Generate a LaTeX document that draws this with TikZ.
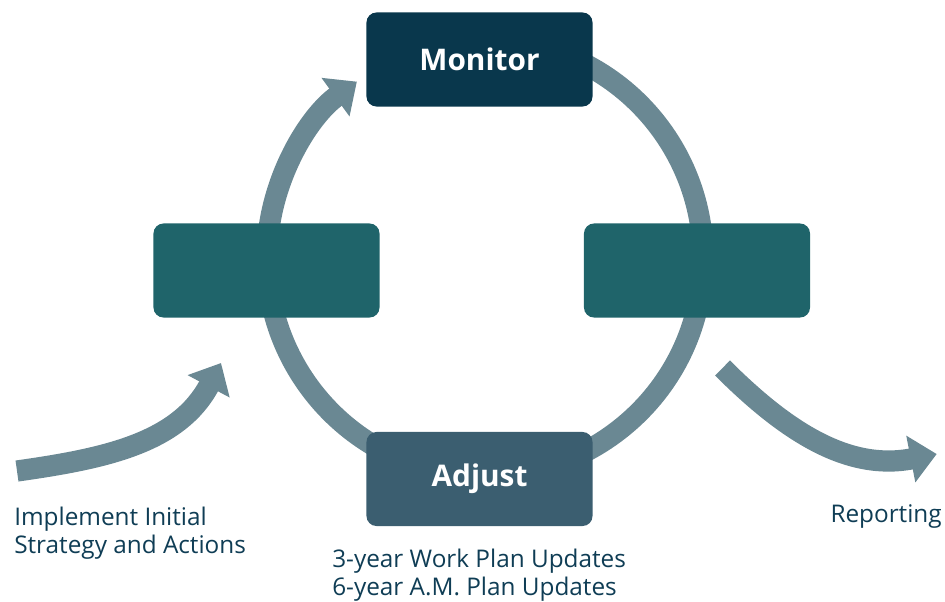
\documentclass[tikz,border=0pt]{standalone}
\usepackage{fontspec}
\setmainfont{Open Sans}
\usetikzlibrary{arrows.meta, positioning}
\definecolor{monitorblue}{RGB}{9,55,76}
\definecolor{stepteal}{RGB}{31,100,106}
\definecolor{adjustslate}{RGB}{59,94,112}
\definecolor{ringgrey}{RGB}{106,136,147}
\definecolor{labelink}{RGB}{15,61,85}

\begin{document}
\begin{tikzpicture}[x=0.025cm, y=0.025cm,
  stagebox/.style={rounded corners=0.25cm, minimum width=5.65cm, minimum height=2.35cm,
    inner sep=0, text=white, font=\fontsize{21.2}{26}\selectfont\bfseries},
  flow/.style={ringgrey, line width=0.53cm, -{Triangle[length=0.66cm, width=1.15cm]}},
  caption/.style={labelink, inner sep=0, font=\fontsize{17.3}{19.9}\selectfont, align=left}]
  \useasboundingbox (0,0) rectangle (945,601);
  \coordinate (hub) at (485,343);
  % cycle ring
  \draw[flow] (hub) ++(80:218) arc[start angle=80, end angle=-234, radius=218];
  % stages
  \node[stagebox, fill=monitorblue] (monitor) at (479.5,541.5) {Monitor};
  \node[stagebox, fill=stepteal] (westbox) at (266.5,330.5) {};
  \node[stagebox, fill=stepteal] (eastbox) at (697,330.5) {};
  \node[stagebox, fill=adjustslate] (adjust) at (479.5,122) {Adjust};
  % in and out
  \coordinate (implstart) at (17,130);
  \coordinate (impltip) at (221,238);
  \draw[flow] (implstart) to[out=8, in=242] (impltip);
  \coordinate (reportstart) at (722.5,233);
  \coordinate (reporttip) at (936.7,147);
  \draw[flow] (reportstart) to[out=-45, in=191] (reporttip);
  % labels
  \node[caption, anchor=base west] (implement) at (14,48) {Implement Initial\\Strategy and Actions};
  \node[caption, anchor=base east] (reporting) at (942,79) {Reporting};
  \node[caption, anchor=base west] (updates) at (332,6) {3-year Work Plan Updates\\6-year A.M. Plan Updates};
\end{tikzpicture}
\end{document}
